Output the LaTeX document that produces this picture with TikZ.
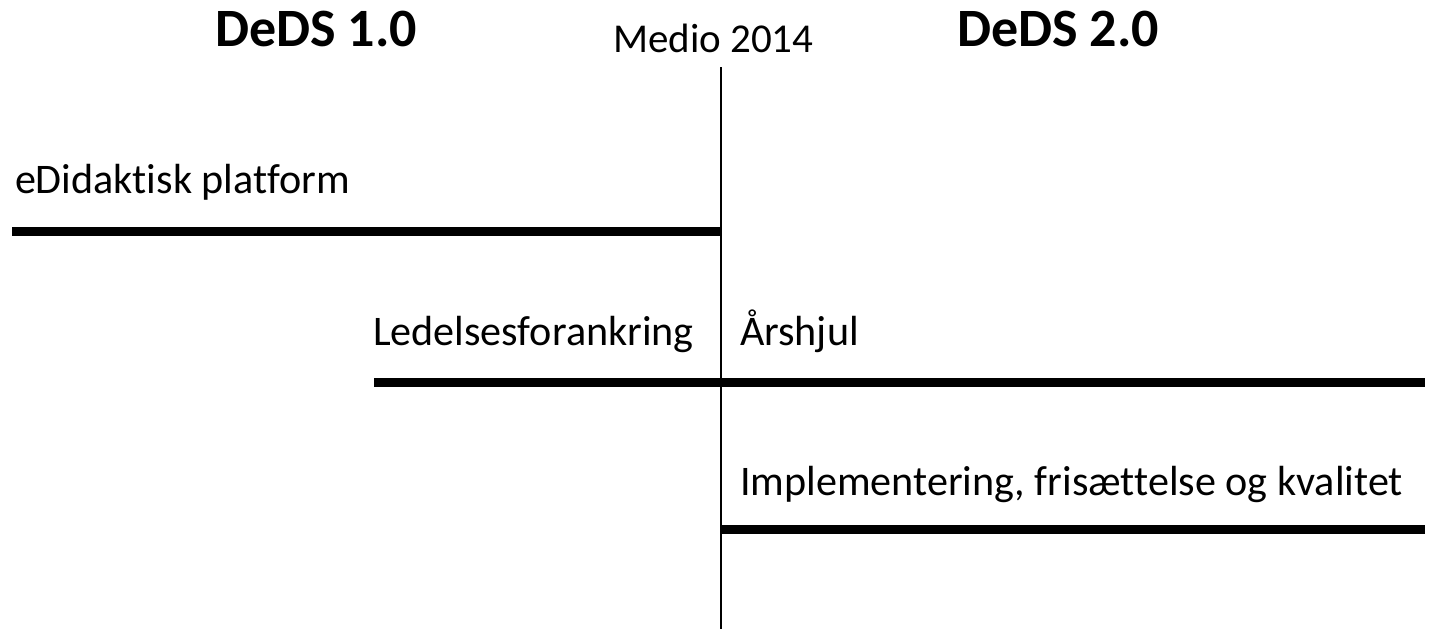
\documentclass[tikz,border=0pt]{standalone}
\usepackage{fontspec}
\setmainfont{Carlito}[RawFeature={-liga;-dlig;-clig}]
\begin{document}
\begin{tikzpicture}[x=0.75pt,y=-0.75pt,
  lbl/.style={anchor=base west,inner sep=0pt,outer sep=0pt,font=\fontsize{31.6pt}{36pt}\selectfont},
  mid/.style={anchor=base west,inner sep=0pt,outer sep=0pt,font=\fontsize{30.75pt}{36pt}\selectfont},
  ttl/.style={anchor=base west,inner sep=0pt,outer sep=0pt,font=\fontsize{40.5pt}{46pt}\selectfont\bfseries},
  bar/.style={line width=6.75pt},
  axis/.style={line width=1.5pt}]
\useasboundingbox (0,0) rectangle (1430,629);
% titles
\node[ttl] (d1) at (215,46) {DeDS 1.0};
\node[ttl] (d2) at (957,46) {DeDS 2.0};
\node[mid] (medio) at (613,52) {Medio 2014};
% labels
\node[lbl] (edid) at (15,193) {eDidaktisk platform};
\node[lbl] (led) at (373,345) {Ledelsesforankring};
\node[lbl] (ars) at (740,345) {Årshjul};
\node[lbl] (imp) at (740,495) {Implementering, frisættelse og kvalitet};
% coordinates
\coordinate (vtop) at (721,67);
\coordinate (vbot) at (721,629);
\coordinate (a1) at (12,231);
\coordinate (a2) at (721,231);
\coordinate (b1) at (374,382);
\coordinate (b2) at (1425,382);
\coordinate (c1) at (721,529);
\coordinate (c2) at (1425,529);
% lines
\draw[axis] (vtop) -- (vbot);
\draw[bar] (a1) -- (a2);
\draw[bar] (b1) -- (b2);
\draw[bar] (c1) -- (c2);
\end{tikzpicture}
\end{document}
